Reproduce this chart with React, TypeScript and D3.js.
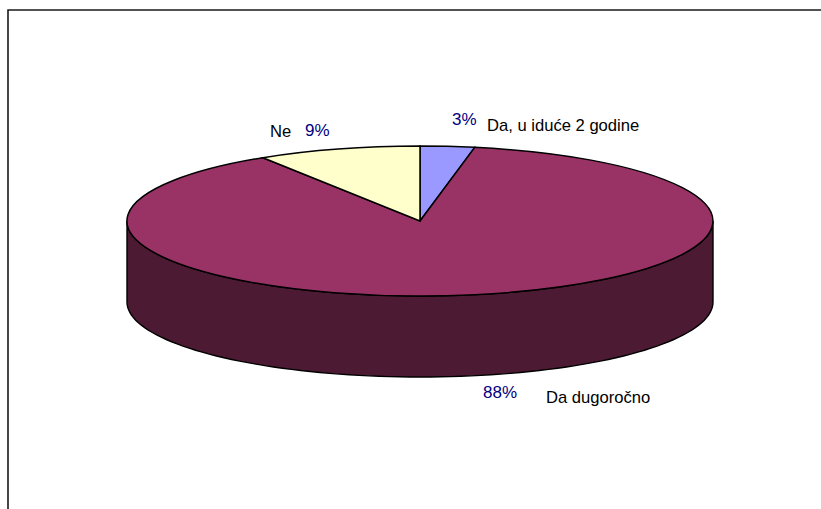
import React from "react";
import * as d3 from "d3";

const categories = ["Da, u iduće 2 godine", "Da dugoročno", "Ne"];
const values = [3, 88, 9];
const labels = ["3%", "88%", "9%"];
const colors = ["#9999ff", "#993366", "#ffffcc"];
const wallColor = "#4d1a33";

const W = 821, H = 509;
const cx = 420, cy = 221, rx = 293, ry = 75, depth = 81;

export default function App() {
  const arcs = d3.pie<number>().sort(null)(values);
  const arc = d3.arc<d3.PieArcDatum<number>>().innerRadius(0).outerRadius(1);
  const steps = d3.range(90, 270.5, 2).map((d) => (d * Math.PI) / 180);
  const wall = d3
    .area<number>()
    .x((a) => cx + rx * Math.sin(a))
    .y0((a) => cy - ry * Math.cos(a))
    .y1((a) => cy - ry * Math.cos(a) + depth)(steps) as string;
  const font = "Liberation Sans, Arial, sans-serif";
  return (
    <svg
      width={W}
      height={H}
      viewBox={`0 0 ${W} ${H}`}
      style={{ position: "absolute", left: 0, top: 0, background: "#fff" }}
    >
      <path d={`M8,${H}V10H${W}`} fill="none" stroke="#1a1a1a" strokeWidth={1.6} />
      <path d={wall} fill={wallColor} stroke="#000" strokeWidth={1.4} />
      <g transform={`translate(${cx},${cy}) scale(${rx},${ry})`}>
        {arcs.map((a, i) => (
          <path
            key={categories[i]}
            d={arc(a) as string}
            fill={colors[i]}
            stroke="#000"
            strokeWidth={1.5}
            vectorEffect="non-scaling-stroke"
          />
        ))}
      </g>
      <g fontFamily={font} fontSize={17} fill="#000080">
        <text x={452} y={125}>{labels[0]}</text>
        <text x={483} y={398}>{labels[1]}</text>
        <text x={305} y={136}>{labels[2]}</text>
      </g>
      <g fontFamily={font} fontSize={16.6} fill="#000">
        <text x={487} y={131}>{categories[0]}</text>
        <text x={546} y={403}>{categories[1]}</text>
        <text x={270} y={137}>{categories[2]}</text>
      </g>
    </svg>
  );
}
